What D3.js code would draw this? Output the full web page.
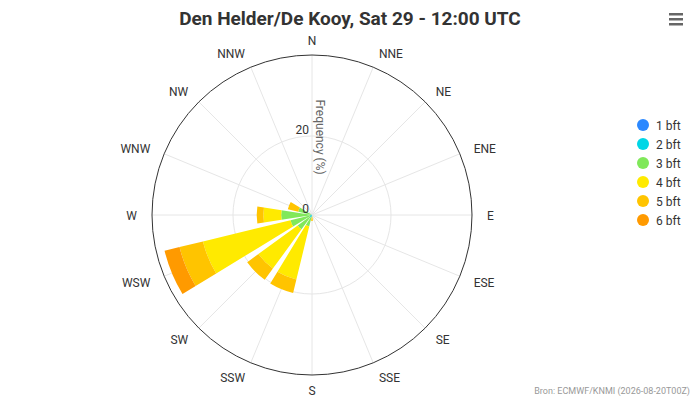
<!DOCTYPE html>
<html lang="en">

<head>
    <meta charset="UTF-8">
    <title>Wind rose</title>
    <script src="https://cdnjs.cloudflare.com/ajax/libs/d3/7.8.5/d3.min.js"></script>
    <style>
        body { margin: 0; background: #fff; }
        svg { display: block; font-family: Roboto, "Noto Sans", sans-serif; }
    </style>
</head>

<body>
    <div id="chart"></div>
    <script>
        // directions, clockwise from north
        const directions = ['N', 'NNE', 'NE', 'ENE', 'E', 'ESE', 'SE', 'SSE',
            'S', 'SSW', 'SW', 'WSW', 'W', 'WNW', 'NW', 'NNW'];

        const seriesNames = ['1 bft', '2 bft', '3 bft', '4 bft', '5 bft', '6 bft'];
        const seriesColors = ['#2b88ff', '#00d6e6', '#80e85a', '#ffea00', '#ffc400', '#ff9a00'];

        // frequency (%) per direction
        const bft1 = [0, 0, 0, 0, 0, 0, 0, 0, 0, 0.1, 0.2, 0.1, 0, 0, 0, 0];
        const bft2 = [0, 0, 0, 0, 0, 0, 0, 0, 0.2, 0.4, 0.6, 0.5, 0.3, 0.2, 0, 0];
        const bft3 = [0, 0, 0, 0, 0, 0, 0, 0, 0, 2.5, 3.7, 5.0, 7.5, 3.4, 0, 0];
        const bft4 = [0, 0, 0, 0, 0, 0, 0, 0, 0.3, 13.8, 12.3, 22.8, 4.5, 0, 0, 0];
        const bft5 = [0, 0, 0, 0, 0, 0, 0, 0, 1.0, 3.5, 3.5, 6.1, 1.7, 2.7, 0, 0];
        const bft6 = [0, 0, 0, 0, 0, 0, 0, 0, 0, 0, 0, 3.9, 0, 0, 0, 0];

        const yTicks = [0, 20];
        const yMax = 40.5;

        const width = 700, height = 400;
        const cx = 312, cy = 215, R = 160;

        const svg = d3.select('#chart')
            .append('svg')
            .attr('width', width)
            .attr('height', height);

        // title
        svg.append('text')
            .attr('x', 350)
            .attr('y', 25)
            .attr('text-anchor', 'middle')
            .attr('font-size', 19)
            .attr('font-weight', 'bold')
            .attr('fill', '#333')
            .text('Den Helder/De Kooy, Sat 29 - 12:00 UTC');

        // menu icon
        [0, 5, 10].forEach(function (d) {
            svg.append('rect')
                .attr('x', 669).attr('y', 13 + d)
                .attr('width', 14).attr('height', 2.5)
                .attr('fill', '#666');
        });

        const r = d3.scaleLinear().domain([0, yMax]).range([0, R]);
        const step = 2 * Math.PI / directions.length;
        const barWidth = step * 0.79;

        const g = svg.append('g').attr('transform', `translate(${cx},${cy})`);

        // radial grid lines
        g.selectAll('.spoke')
            .data(directions)
            .enter()
            .append('line')
            .attr('x1', 0).attr('y1', 0)
            .attr('x2', function (d, i) { return R * Math.sin(i * step); })
            .attr('y2', function (d, i) { return -R * Math.cos(i * step); })
            .attr('stroke', '#e6e6e6');

        // circle grid lines
        g.selectAll('.ring')
            .data(yTicks.filter(function (d) { return d > 0; }))
            .enter()
            .append('circle')
            .attr('r', function (d) { return r(d); })
            .attr('fill', 'none')
            .attr('stroke', '#e6e6e6');

        // stacked bars
        const series = [bft1, bft2, bft3, bft4, bft5, bft6];
        const arc = d3.arc();
        directions.forEach(function (dir, i) {
            let base = 0;
            series.forEach(function (s, k) {
                const v = s[i];
                if (v > 0) {
                    g.append('path')
                        .attr('d', arc({
                            innerRadius: r(base),
                            outerRadius: r(base + v),
                            startAngle: i * step - barWidth / 2,
                            endAngle: i * step + barWidth / 2
                        }))
                        .attr('fill', seriesColors[k]);
                }
                base += v;
            });
        });

        // outer pane line
        g.append('circle')
            .attr('r', R)
            .attr('fill', 'none')
            .attr('stroke', '#333')
            .attr('stroke-width', 1);

        // direction labels
        g.selectAll('.dir')
            .data(directions)
            .enter()
            .append('text')
            .attr('x', function (d, i) { return (R + 15) * Math.sin(i * step); })
            .attr('y', function (d, i) { return -(R + 15) * Math.cos(i * step); })
            .attr('dy', '0.42em')
            .attr('text-anchor', function (d, i) {
                const s = Math.sin(i * step);
                if (s > 0.1) return 'start';
                if (s < -0.1) return 'end';
                return 'middle';
            })
            .attr('font-size', 12)
            .attr('fill', '#333')
            .text(function (d) { return d; });

        // y axis tick labels
        g.selectAll('.ytick')
            .data(yTicks)
            .enter()
            .append('text')
            .attr('x', -3)
            .attr('y', function (d) { return -r(d) - 2; })
            .attr('text-anchor', 'end')
            .attr('font-size', 12)
            .attr('fill', '#333')
            .text(function (d) { return d; });

        // y axis title
        g.append('text')
            .attr('transform', `translate(8,${-78}) rotate(90)`)
            .attr('text-anchor', 'middle')
            .attr('dy', '0.35em')
            .attr('font-size', 12)
            .attr('fill', '#666')
            .text('Frequency (%)');

        // legend
        const legend = svg.append('g').attr('transform', 'translate(643,125)');
        seriesNames.forEach(function (name, i) {
            legend.append('circle')
                .attr('cx', 0).attr('cy', i * 19)
                .attr('r', 6)
                .attr('fill', seriesColors[i]);
            legend.append('text')
                .attr('x', 13).attr('y', i * 19)
                .attr('dy', '0.42em')
                .attr('font-size', 12)
                .attr('fill', '#333')
                .text(name);
        });

        // credits
        svg.append('text')
            .attr('x', 690)
            .attr('y', 394)
            .attr('text-anchor', 'end')
            .attr('font-size', 9)
            .attr('fill', '#999')
            .text('Bron: ECMWF/KNMI (2026-08-20T00Z)');
    </script>
</body>

</html>
